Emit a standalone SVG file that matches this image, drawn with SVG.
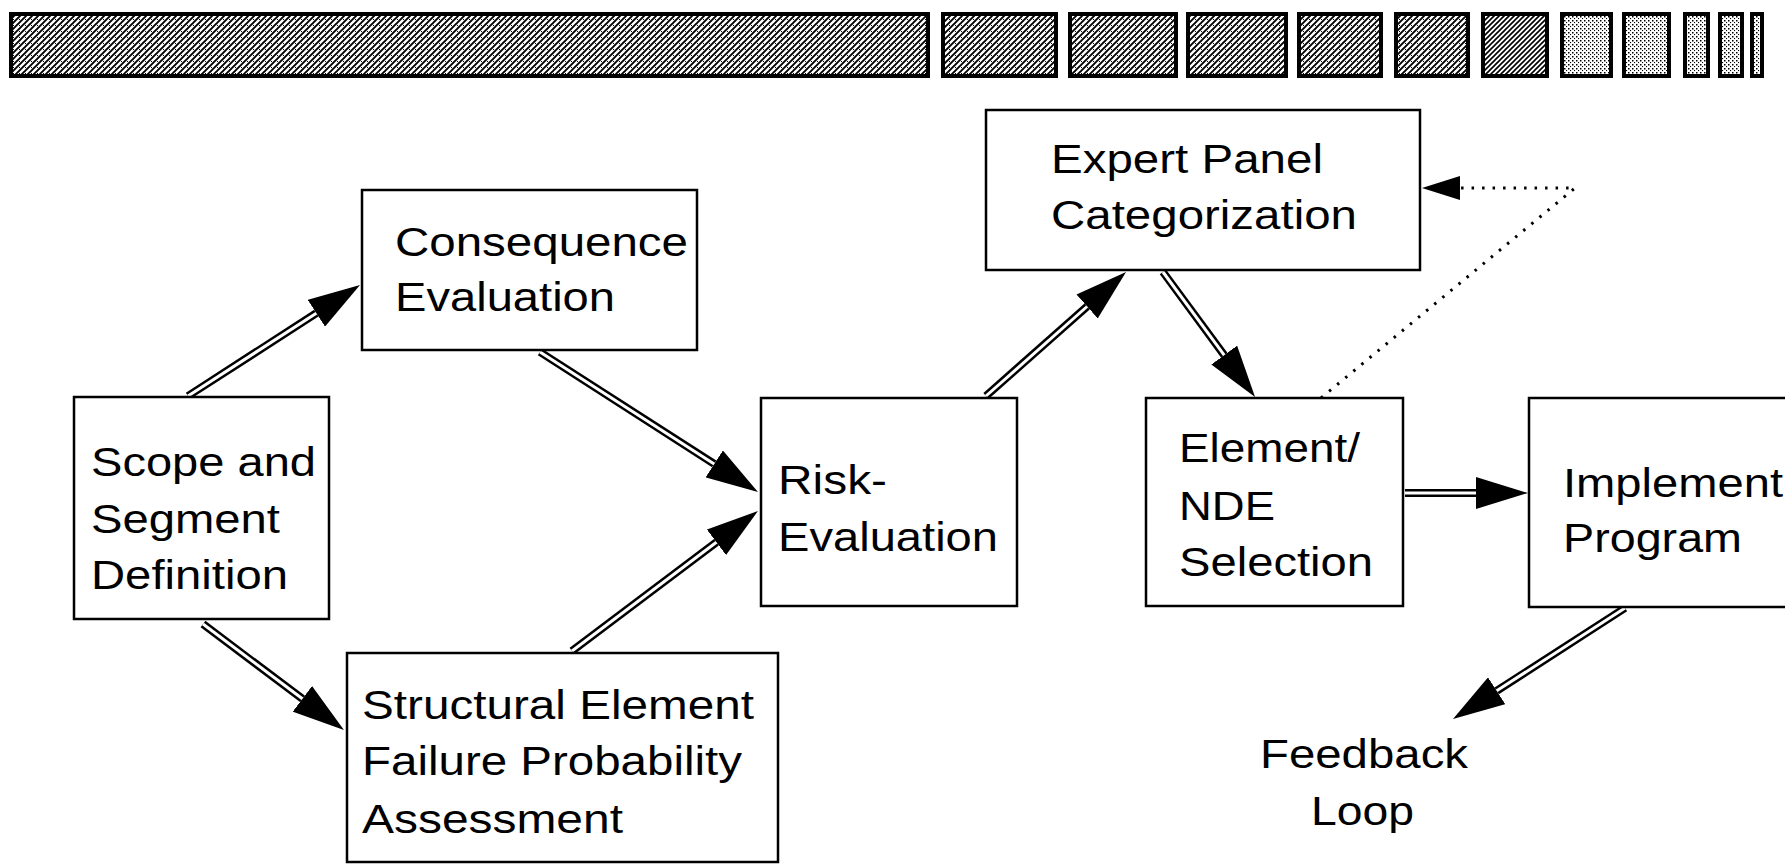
<svg xmlns="http://www.w3.org/2000/svg" width="1785" height="864" viewBox="0 0 1785 864">
<style>
.box{fill:#fff;stroke:#000;stroke-width:2.5}
.t{font-family:"Liberation Sans",Arial,Helvetica,sans-serif;font-size:41px;fill:#000}
.sh{fill:none;stroke:#000;stroke-width:8}
.si{fill:none;stroke:#fff;stroke-width:3}
.bar{stroke:#000;stroke-width:4}
</style>
<defs>
<pattern id="dk" width="6" height="6" patternUnits="userSpaceOnUse">
<rect width="6" height="6" fill="#fff"/>
<path d="M-1,7 L7,-1 M-1,1 L1,-1 M5,7 L7,5" stroke="#000" stroke-width="1.9"/>
<rect x="1" y="1" width="1" height="1" fill="#000"/>
</pattern>
<pattern id="md" width="5" height="5" patternUnits="userSpaceOnUse">
<rect width="5" height="5" fill="#fff"/>
<path d="M-1,6 L6,-1 M-1,1 L1,-1 M4,6 L6,4" stroke="#000" stroke-width="1.6"/>
</pattern>
<pattern id="lt" width="4" height="4" patternUnits="userSpaceOnUse">
<rect width="4" height="4" fill="#fff"/>
<rect x="0" y="0" width="1.5" height="1.5" fill="#000"/>
<rect x="2" y="2" width="1.1" height="1.1" fill="#000"/>
</pattern>
<marker id="ah" markerUnits="userSpaceOnUse" markerWidth="52" markerHeight="32" viewBox="0 0 52 32" refX="0" refY="16" orient="auto">
<path d="M0,0 L52,16 L0,32 z" fill="#000"/>
</marker>
<marker id="ahd" markerUnits="userSpaceOnUse" markerWidth="38" markerHeight="24" viewBox="0 0 38 24" refX="0" refY="12" orient="auto">
<path d="M0,0 L38,12 L0,24 z" fill="#000"/>
</marker>
</defs>
<rect width="1785" height="864" fill="#fff"/>
<g id="header">
<rect class="bar" x="11" y="14" width="917" height="62" fill="url(#dk)"/>
<rect class="bar" x="943" y="14" width="113" height="62" fill="url(#dk)"/>
<rect class="bar" x="1070" y="14" width="106" height="62" fill="url(#dk)"/>
<rect class="bar" x="1188" y="14" width="98" height="62" fill="url(#dk)"/>
<rect class="bar" x="1299" y="14" width="82" height="62" fill="url(#dk)"/>
<rect class="bar" x="1396" y="14" width="72" height="62" fill="url(#dk)"/>
<rect class="bar" x="1483" y="14" width="64" height="62" fill="url(#md)"/>
<rect class="bar" x="1562" y="14" width="49" height="62" fill="url(#lt)"/>
<rect class="bar" x="1624" y="14" width="45" height="62" fill="url(#lt)"/>
<rect class="bar" x="1685" y="14" width="23" height="62" fill="url(#lt)"/>
<rect class="bar" x="1720" y="14" width="22" height="62" fill="url(#lt)"/>
<rect class="bar" x="1752" y="14" width="10" height="62" fill="url(#lt)"/>
</g>
<g id="connectors">
<path class="sh" d="M188,396 L316.3,313.2" marker-end="url(#ah)"/>
<path class="si" d="M188,396 L316.3,313.2"/>
<path class="sh" d="M540,352 L714.2,463.9" marker-end="url(#ah)"/>
<path class="si" d="M540,352 L714.2,463.9"/>
<path class="sh" d="M203,624 L302.4,698.8" marker-end="url(#ah)"/>
<path class="si" d="M203,624 L302.4,698.8"/>
<path class="sh" d="M572,651 L716.4,542.3" marker-end="url(#ah)"/>
<path class="si" d="M572,651 L716.4,542.3"/>
<path class="sh" d="M986,396 L1087.1,306.5" marker-end="url(#ah)"/>
<path class="si" d="M986,396 L1087.1,306.5"/>
<path class="sh" d="M1163,272 L1224.2,355.1" marker-end="url(#ah)"/>
<path class="si" d="M1163,272 L1224.2,355.1"/>
<path class="sh" d="M1405,493 L1476,493" marker-end="url(#ah)"/>
<path class="si" d="M1405,493 L1476,493"/>
<path class="sh" d="M1625,608 L1496.7,690.8" marker-end="url(#ah)"/>
<path class="si" d="M1625,608 L1496.7,690.8"/>
<path d="M1321,398 L1575,188 L1460,188" fill="none" stroke="#000" stroke-width="3" stroke-dasharray="2.5 8" marker-end="url(#ahd)"/>
</g>
<g id="scope">
<rect class="box" x="74" y="397" width="255" height="222"/>
<text class="t" x="91" y="476" textLength="225" lengthAdjust="spacingAndGlyphs">Scope and</text>
<text class="t" x="91" y="533" textLength="189" lengthAdjust="spacingAndGlyphs">Segment</text>
<text class="t" x="91" y="589" textLength="197" lengthAdjust="spacingAndGlyphs">Definition</text>
</g>
<g id="consequence">
<rect class="box" x="362" y="190" width="335" height="160"/>
<text class="t" x="395" y="256" textLength="293" lengthAdjust="spacingAndGlyphs">Consequence</text>
<text class="t" x="395" y="311" textLength="220" lengthAdjust="spacingAndGlyphs">Evaluation</text>
</g>
<g id="structural">
<rect class="box" x="347" y="653" width="431" height="209"/>
<text class="t" x="362" y="719" textLength="392" lengthAdjust="spacingAndGlyphs">Structural Element</text>
<text class="t" x="362" y="775" textLength="380" lengthAdjust="spacingAndGlyphs">Failure Probability</text>
<text class="t" x="362" y="833" textLength="261" lengthAdjust="spacingAndGlyphs">Assessment</text>
</g>
<g id="risk">
<rect class="box" x="761" y="398" width="256" height="208"/>
<text class="t" x="778" y="494" textLength="109" lengthAdjust="spacingAndGlyphs">Risk-</text>
<text class="t" x="778" y="551" textLength="220" lengthAdjust="spacingAndGlyphs">Evaluation</text>
</g>
<g id="expert">
<rect class="box" x="986" y="110" width="434" height="160"/>
<text class="t" x="1051" y="173" textLength="272" lengthAdjust="spacingAndGlyphs">Expert Panel</text>
<text class="t" x="1051" y="229" textLength="306" lengthAdjust="spacingAndGlyphs">Categorization</text>
</g>
<g id="element">
<rect class="box" x="1146" y="398" width="257" height="208"/>
<text class="t" x="1179" y="462" textLength="181" lengthAdjust="spacingAndGlyphs">Element/</text>
<text class="t" x="1179" y="520" textLength="96" lengthAdjust="spacingAndGlyphs">NDE</text>
<text class="t" x="1179" y="576" textLength="194" lengthAdjust="spacingAndGlyphs">Selection</text>
</g>
<g id="implement">
<rect class="box" x="1529" y="398" width="262" height="209"/>
<text class="t" x="1563" y="497" textLength="220" lengthAdjust="spacingAndGlyphs">Implement</text>
<text class="t" x="1563" y="552" textLength="179" lengthAdjust="spacingAndGlyphs">Program</text>
</g>
<g id="feedback">
<text class="t" x="1260" y="768" textLength="208" lengthAdjust="spacingAndGlyphs">Feedback</text>
<text class="t" x="1311" y="825" textLength="103" lengthAdjust="spacingAndGlyphs">Loop</text>
</g>
</svg>
